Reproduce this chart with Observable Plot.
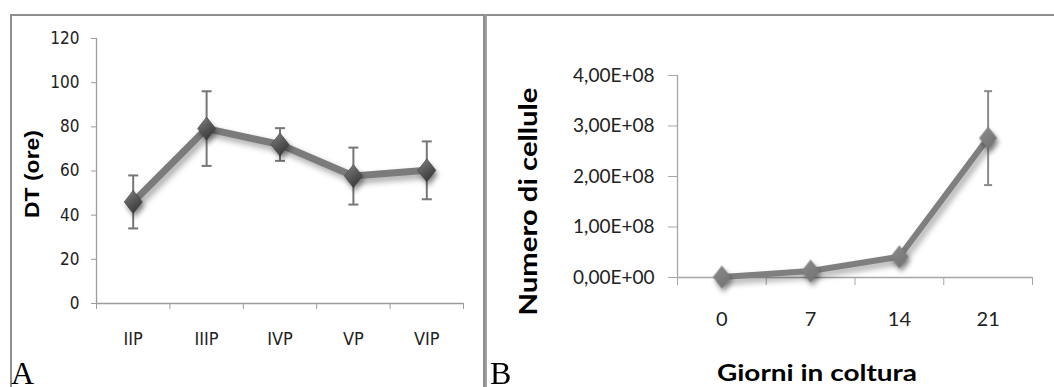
<!DOCTYPE html>
<html>
<head>
<meta charset="utf-8">
<script src="https://cdn.jsdelivr.net/npm/d3@7"></script>
<script src="https://cdn.jsdelivr.net/npm/@observablehq/plot@0.6"></script>
<style>
  html, body { margin: 0; padding: 0; background: #fff; }
  #wrap { position: relative; width: 1054px; height: 387px; overflow: hidden; background: #fff; }
  .panel { position: absolute; top: 0; }
  .frame { position: absolute; box-sizing: border-box; pointer-events: none; }
  #frameA { left: 10px; top: 14px; width: 474.5px; height: 420px;
            border-left: 2.5px solid #8e8e8e; border-top: 2.5px solid #8e8e8e; border-right: 2px solid #8e8e8e; }
  #frameB { left: 485px; top: 14px; width: 620px; height: 420px;
            border-left: 2px solid #a0a0a0; border-top: 2.5px solid #8e8e8e; }
  .letter { position: absolute; top: 357px; font-family: "Liberation Serif", "Times New Roman", serif;
            font-size: 32px; line-height: 32px; color: #000; }
  .narrow text { font-stretch: condensed; }
</style>
</head>
<body>
<div id="wrap">
  <div id="panelA" class="panel narrow" style="left:0px"></div>
  <div id="panelB" class="panel" style="left:487px"></div>
  <div id="frameA" class="frame"></div>
  <div id="frameB" class="frame"></div>
  <div class="letter" style="left:11px">A</div>
  <div class="letter" style="left:490px">B</div>
</div>
<script>
// ---------- Data: panel A ----------
const categoriesA = ["IIP", "IIIP", "IVP", "VP", "VIP"];
const dtMeans = [46, 79.2, 72, 57.7, 60.3];
const dtErrors = [12, 16.9, 7.4, 12.9, 13.1];
const yTicksA = [0, 20, 40, 60, 80, 100, 120];
const yLabelA = "DT (ore)";

// ---------- Data: panel B ----------
const dayLabels = ["0", "7", "14", "21"];
const cellMeans = [1.0e6, 1.3e7, 4.1e7, 2.76e8];
const cellErrors = [0, 0, 0, 0.93e8];
const yTicksB = [0, 1e8, 2e8, 3e8, 4e8];
const yTickLabelsB = ["0,00E+00", "1,00E+08", "2,00E+08", "3,00E+08", "4,00E+08"];
const yLabelB = "Numero di cellule";
const xLabelB = "Giorni in coltura";

// ---------- helpers ----------
const capSymbol = (half) => ({ draw(ctx) { ctx.moveTo(-half, 0); ctx.lineTo(half, 0); } });
const diamondSymbol = (rx, ry) => ({ draw(ctx) {
  ctx.moveTo(0, -ry); ctx.lineTo(rx, 0); ctx.lineTo(0, ry); ctx.lineTo(-rx, 0); ctx.closePath();
}});
const narrow = '"DejaVu Sans Condensed", "Liberation Sans Narrow", "DejaVu Sans", sans-serif';
const calibriLike = 'Lato, "Open Sans", "Noto Sans", sans-serif';

// ---------- Panel A ----------
const dataA = categoriesA.map((c, i) => ({ i, c, v: dtMeans[i], e: dtErrors[i] }));
const idxA = categoriesA.map((_, i) => i);
const boundsA = d3.range(-0.5, categoriesA.length, 1);
const axisGrayA = "#9c9c9c";
const barGrayA = "#767676";

const chartA = Plot.plot({
  width: 483, height: 387,
  marginLeft: 96, marginRight: 20, marginTop: 38, marginBottom: 84,
  style: { background: "transparent", fontFamily: narrow, overflow: "visible" },
  x: { type: "linear", domain: [-0.5, categoriesA.length - 0.5] },
  y: { domain: [0, 120] },
  marks: [
    Plot.ruleY([0], { stroke: axisGrayA, strokeWidth: 1.3 }),
    Plot.ruleX([-0.5], { stroke: axisGrayA, strokeWidth: 1.3 }),
    Plot.axisY({ ticks: yTicksA, tickSize: 5, tickPadding: 12, stroke: axisGrayA, color: "#222",
                 fontSize: 17, fontFamily: narrow, label: yLabelA, labelArrow: "none",
                 labelAnchor: "center", labelOffset: 72 }),
    Plot.axisX({ ticks: boundsA, tickSize: 6, tickFormat: () => "", stroke: axisGrayA, label: null }),
    Plot.axisX({ ticks: idxA, tickSize: 0, tickPadding: 29, tickFormat: (i) => categoriesA[i],
                 color: "#222", fontSize: 18, fontFamily: narrow, label: null }),
    Plot.line(dataA, { x: "i", y: "v", stroke: "#7b7b7b", strokeWidth: 7, strokeLinejoin: "round" }),
    Plot.ruleX(dataA, { x: "i", y1: (d) => d.v - d.e, y2: (d) => d.v + d.e, stroke: barGrayA, strokeWidth: 2 }),
    Plot.dot(dataA, { x: "i", y: (d) => d.v + d.e, symbol: capSymbol(5), stroke: barGrayA, strokeWidth: 2 }),
    Plot.dot(dataA, { x: "i", y: (d) => d.v - d.e, symbol: capSymbol(5), stroke: barGrayA, strokeWidth: 2 }),
    Plot.dot(dataA, { x: "i", y: "v", symbol: diamondSymbol(9, 11.5), fill: "url(#gradA)", stroke: "#3c3c3c", strokeWidth: 0.6 })
  ]
});

// ---------- Panel B ----------
const dataB = dayLabels.map((c, i) => ({ i, c, v: cellMeans[i], e: cellErrors[i] }));
const dataBerr = dataB.filter((d) => d.e > 0);
const idxB = dayLabels.map((_, i) => i);
const boundsB = d3.range(-0.5, dayLabels.length, 1);
const axisGrayB = "#a6a6a6";
const barGrayB = "#8a8a8a";

const chartB = Plot.plot({
  width: 567, height: 387,
  marginLeft: 190, marginRight: 22, marginTop: 75, marginBottom: 110,
  style: { background: "transparent", fontFamily: calibriLike, overflow: "visible" },
  x: { type: "linear", domain: [-0.5, dayLabels.length - 0.5] },
  y: { domain: [0, 4e8] },
  marks: [
    Plot.ruleY([0], { stroke: axisGrayB, strokeWidth: 1.3 }),
    Plot.ruleX([-0.5], { stroke: axisGrayB, strokeWidth: 1.3 }),
    Plot.axisY({ ticks: yTicksB, tickSize: 9, tickPadding: 14, stroke: axisGrayB, color: "#222",
                 tickFormat: (d) => yTickLabelsB[yTicksB.indexOf(d)],
                 fontSize: 19, fontFamily: calibriLike, label: yLabelB, labelArrow: "none",
                 labelAnchor: "center", labelOffset: 158 }),
    Plot.axisX({ ticks: boundsB, tickSize: 8, tickFormat: () => "", stroke: axisGrayB, label: null }),
    Plot.axisX({ ticks: idxB, tickSize: 0, tickPadding: 34, tickFormat: (i) => dayLabels[i],
                 color: "#222", fontSize: 20, fontFamily: calibriLike,
                 label: xLabelB, labelArrow: "none", labelAnchor: "center", labelOffset: 103 }),
    Plot.line(dataB, { x: "i", y: "v", stroke: "#7f7f7f", strokeWidth: 6, strokeLinejoin: "round" }),
    Plot.ruleX(dataBerr, { x: "i", y1: (d) => d.v - d.e, y2: (d) => d.v + d.e, stroke: barGrayB, strokeWidth: 2 }),
    Plot.dot(dataBerr, { x: "i", y: (d) => d.v + d.e, symbol: capSymbol(4), stroke: barGrayB, strokeWidth: 2 }),
    Plot.dot(dataBerr, { x: "i", y: (d) => d.v - d.e, symbol: capSymbol(4), stroke: barGrayB, strokeWidth: 2 }),
    Plot.dot(dataB, { x: "i", y: "v", symbol: diamondSymbol(9, 11.5), fill: "url(#gradB)", stroke: "none" })
  ]
});

document.getElementById("panelA").appendChild(chartA);
document.getElementById("panelB").appendChild(chartB);

// ---------- styling touches ----------
function addDefs(svg, html) {
  d3.select(svg).insert("defs", ":first-child").html(html);
}
addDefs(chartA, `<linearGradient id="gradA" x1="0" y1="0" x2="0.6" y2="1">
  <stop offset="0" stop-color="#8a8a8a"/><stop offset="0.45" stop-color="#606060"/><stop offset="1" stop-color="#383838"/></linearGradient>`);
addDefs(chartB, `<linearGradient id="gradB" x1="0" y1="0" x2="0.6" y2="1">
  <stop offset="0" stop-color="#8c8c8c"/><stop offset="1" stop-color="#747474"/></linearGradient>`);

for (const svg of [chartA, chartB]) {
  const s = d3.select(svg);
  s.selectAll('g[aria-label="line"]').style("filter", "drop-shadow(3px 4px 3px rgba(0,0,0,0.35))");
  s.selectAll('g[aria-label="dot"]').filter(function () {
    return (this.getAttribute("fill") || "").startsWith("url");
  }).style("filter", "drop-shadow(2px 4px 2.5px rgba(0,0,0,0.4))");
}

function styleLabel(svg, which, label, font, size, length, shift) {
  const g = d3.select(svg).select(`g[aria-label="${which}-axis label"]`);
  g.attr("font-family", font).attr("font-size", size).attr("font-weight", "bold").attr("fill", "#000")
   .style("font-family", font).style("font-size", size + "px").style("font-weight", "bold")
   .style("font-stretch", "normal");
  g.selectAll("text").text(label).attr("textLength", length).attr("lengthAdjust", "spacingAndGlyphs")
   .attr("dx", shift).style("font-size", size + "px").style("font-weight", "bold").style("font-stretch", "normal");
}
styleLabel(chartA, "y", yLabelA, '"Liberation Sans", Arial, sans-serif', 20, 88, -3);
styleLabel(chartB, "y", yLabelB, calibriLike, 25, 228, -25);
styleLabel(chartB, "x", xLabelB, calibriLike, 23, 200, -38);
</script>
</body>
</html>
